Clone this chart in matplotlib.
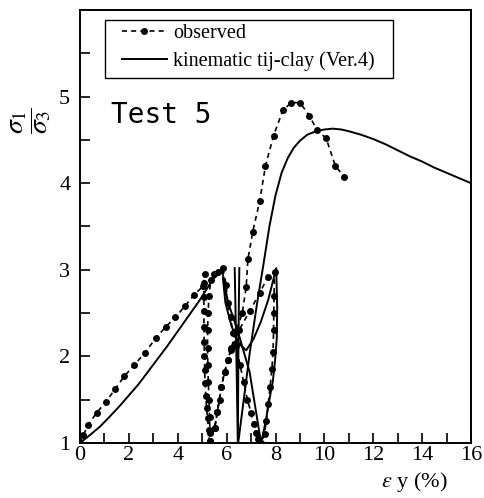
import matplotlib

matplotlib.use("Agg")

import matplotlib.pyplot as plt
from matplotlib.lines import Line2D
from matplotlib.patches import Rectangle

# observed (dashed with dots), in drawing order
obs_x = [0.0, 0.13, 0.34, 0.68, 1.05, 1.43, 1.81, 2.22, 2.65, 3.10, 3.50, 3.90, 4.29, 4.67, 5.03, 5.10,
         5.07, 5.07, 5.07, 5.07, 5.08, 5.09, 5.10, 5.12, 5.15, 5.18, 5.22, 5.26, 5.30,
         5.32, 5.30, 5.28, 5.25, 5.23, 5.22, 5.22, 5.24, 5.28, 5.35, 5.50, 5.65, 5.84,
         5.98, 6.04, 6.16, 6.26, 6.39, 6.55, 6.70, 6.85, 7.00, 7.10, 7.20, 7.30, 7.42,
         7.55, 7.62, 7.70, 7.78, 7.85, 7.90, 7.92, 7.93, 7.94, 7.96,
         7.69, 7.35, 6.94, 6.50, 6.19, 6.05, 5.92, 5.78, 5.71, 5.62, 5.51, 5.30,
         5.51, 5.62, 5.78, 5.92, 6.05, 6.19, 6.39, 6.64, 6.80, 6.87,
         7.07, 7.35, 7.59, 7.92, 8.30, 8.64, 9.00, 9.39, 9.70, 10.07, 10.45, 10.82]
obs_y = [1.00, 1.09, 1.21, 1.35, 1.47, 1.62, 1.77, 1.90, 2.04, 2.21, 2.34, 2.45, 2.58, 2.71, 2.81, 2.95,
         2.85, 2.69, 2.52, 2.34, 2.17, 2.00, 1.84, 1.69, 1.54, 1.40, 1.29, 1.15, 1.02,
         1.12, 1.30, 1.50, 1.70, 1.90, 2.10, 2.30, 2.50, 2.70, 2.88, 2.95, 2.98, 3.02,
         2.83, 2.62, 2.45, 2.27, 2.12, 1.90, 1.70, 1.50, 1.35, 1.22, 1.12, 1.05, 1.00,
         1.10, 1.25, 1.45, 1.65, 1.85, 2.05, 2.30, 2.50, 2.70, 2.97,
         2.92, 2.73, 2.52, 2.30, 2.07, 1.96, 1.82, 1.65, 1.50, 1.36, 1.17, 1.02,
         1.17, 1.36, 1.65, 1.82, 1.96, 2.10, 2.29, 2.50, 2.80, 3.12,
         3.44, 3.79, 4.20, 4.55, 4.84, 4.93, 4.93, 4.78, 4.61, 4.52, 4.20, 4.07]

# kinematic tij-clay (Ver.4), solid, split into pieces
sim_a_x = [0.0, 0.4, 0.82, 1.2, 1.6, 2.0, 2.4, 2.8, 3.2, 3.6, 4.0, 4.4, 4.9, 5.3, 5.8,
           6.05, 6.46, 6.94, 7.41,
           7.60, 7.75, 7.89, 7.98, 8.05, 8.07, 8.03,
           7.70, 7.40, 7.10, 6.80,
           6.50, 6.20, 5.95, 5.85]
sim_a_y = [1.00, 1.09, 1.19, 1.30, 1.42, 1.55, 1.68, 1.83, 1.98, 2.13, 2.29, 2.45, 2.65, 2.83, 3.02,
           2.63, 2.29, 1.82, 1.00,
           1.25, 1.50, 1.71, 1.95, 2.20, 2.55, 3.02,
           2.65, 2.40, 2.20, 2.07,
           2.15, 2.35, 2.62, 2.90]
sim_b_x = [6.33, 6.40, 6.46, 6.48, 6.50, 6.52]
sim_b_y = [3.02, 2.00, 0.97, 2.00, 2.60, 3.02]
sim_c_x = [6.46, 6.70, 6.95, 7.25, 7.50, 7.75, 8.00, 8.25, 8.50, 8.75, 9.00, 9.30, 9.66, 10.0, 10.34,
           10.7, 11.0, 11.5, 12.0, 12.5, 13.0, 13.5, 14.0, 14.5, 15.0, 15.5, 16.0]
sim_c_y = [0.97, 1.50, 2.05, 2.62, 3.05, 3.50, 3.86, 4.12, 4.29, 4.41, 4.49, 4.56, 4.60, 4.62, 4.63,
           4.62, 4.60, 4.56, 4.51, 4.45, 4.38, 4.31, 4.25, 4.18, 4.12, 4.06, 4.00]

x_ticks = [0, 2, 4, 6, 8, 10, 12, 14, 16]
y_ticks = [1, 2, 3, 4, 5]

plt.rcParams["font.family"] = "Liberation Serif"
plt.rcParams["mathtext.fontset"] = "stix"

fig = plt.figure(figsize=(4.84, 4.98), dpi=100)
ax = fig.add_axes([80 / 484, 55 / 498, 391 / 484, 433 / 498])

obs_style = dict(color="black", linestyle=(0, (3, 2.5)), linewidth=1.2,
                 marker="o", markersize=5, markerfacecolor="black", markeredgewidth=0)
ax.plot(obs_x, obs_y, **obs_style)
for xs, ys in [(sim_a_x, sim_a_y), (sim_b_x, sim_b_y), (sim_c_x, sim_c_y)]:
    ax.plot(xs, ys, color="black", linewidth=1.4)

ax.set_xlim(0, 16)
ax.set_ylim(1, 6)
ax.set_xticks(x_ticks)
ax.set_xticks(range(0, 17), minor=True)
ax.set_yticks(y_ticks)
ax.set_yticks([1.5, 2.5, 3.5, 4.5, 5.5], minor=True)
ax.tick_params(which="both", direction="in", length=7, width=1.2, labelsize=16)
ax.tick_params(axis="x", pad=2)
ax.tick_params(axis="y", pad=7)
for s in ax.spines.values():
    s.set_linewidth(1.4)

ax.text(1.27, 4.70, "Test 5", family="DejaVu Sans Mono", fontsize=20)
ax.text(-0.125, 0.745, r"$\dfrac{\sigma_1}{\sigma_3}$", transform=ax.transAxes,
        rotation=90, fontsize=20, ha="center", va="center")
ax.text(0.855, -0.09, r"$\varepsilon$ y (%)", transform=ax.transAxes,
        fontsize=16, ha="center", va="center")

# legend: frameless entries plus a plain square box round them
handles = [
    Line2D([], [], **obs_style),
    Line2D([], [], color="black", linewidth=1.4),
]
ax.legend(handles, ["observed", "kinematic tij-clay (Ver.4)"], loc="upper left",
          bbox_to_anchor=(0.107, 0.968), fontsize=14.5, frameon=False,
          handlelength=2.25, borderpad=0, labelspacing=0.4, handletextpad=0.3,
          borderaxespad=0)
ax.add_patch(Rectangle((0.064, 0.843), 0.737, 0.134, transform=ax.transAxes,
                       fill=False, edgecolor="black", linewidth=1.0, zorder=5))

fig.savefig("out.png", dpi=100)
